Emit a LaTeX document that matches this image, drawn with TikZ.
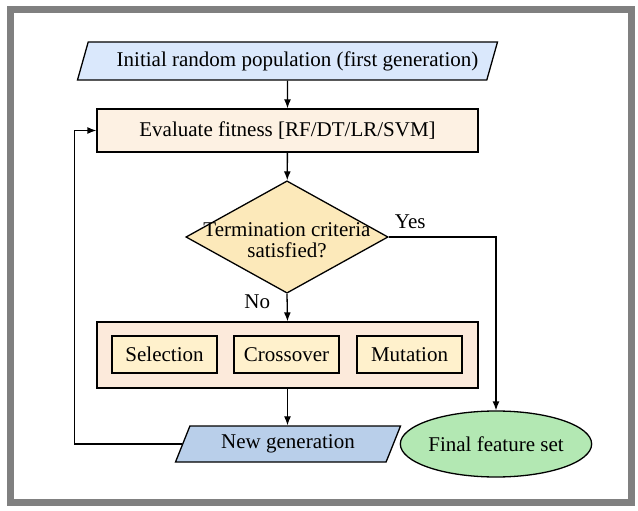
\documentclass[tikz,border=0pt]{standalone}
\usepackage{fontspec}
\setmainfont{Liberation Serif}
\usetikzlibrary{shapes.geometric,arrows.meta}

\definecolor{inputblue}{HTML}{DAE8FC}
\definecolor{evalfill}{HTML}{FDF1E3}
\definecolor{decfill}{HTML}{FCE9BA}
\definecolor{groupfill}{HTML}{FCEADB}
\definecolor{opfill}{HTML}{FFF1CC}
\definecolor{genblue}{HTML}{B9CFEA}
\definecolor{finalgreen}{HTML}{B3E8B3}
\definecolor{framegray}{HTML}{808080}

\begin{document}
\begin{tikzpicture}[x=1pt, y=-1pt, line width=1.3pt,
  >={Latex[length=9pt,width=7pt]}, font=\fontsize{21}{19}\selectfont]
  \tikzstyle{procbox}=[draw, rectangle, align=center, inner sep=0pt]
  \tikzstyle{iobox}=[draw, trapezium, trapezium stretches body, inner sep=0pt]
  \tikzstyle{opbox}=[procbox, fill=opfill, minimum width=105pt, minimum height=37pt]

  \useasboundingbox (0,0) rectangle (638,511);
  \draw[line width=7pt, framegray] (10.5,10) rectangle (631.5,502.5);

  \node[iobox, fill=inputblue, trapezium left angle=61, trapezium right angle=119,
    minimum width=420pt, minimum height=38pt] (Init) at (287.5,61)
    {\hspace*{20pt}Initial random population (first generation)};

  \node[procbox, fill=evalfill, minimum width=381pt, minimum height=43pt] (Eval) at (287.5,130.5)
    {Evaluate fitness [RF/DT/LR/SVM]};

  \node[draw, diamond, fill=decfill, shape aspect=1.8, inner sep=-6.6pt] (Check) at (287,237)
    {\raisebox{-6pt}[\height][\depth]{\begin{tabular}{@{}c@{}}Termination criteria\\satisfied?\end{tabular}}};

  \node[procbox, fill=groupfill, minimum width=381pt, minimum height=66pt] (Ops) at (287.5,355) {};

  \node[opbox] (Selection) at (164.5,354.5) {Selection};

  \node[opbox] (Crossover) at (286.5,354.5) {Crossover};

  \node[opbox] (Mutation) at (409.5,354.5) {Mutation};

  \node[iobox, fill=genblue, trapezium left angle=52, trapezium right angle=128,
    minimum width=225pt, minimum height=36pt] (NewGen) at (288,444) {New generation};

  \node[draw, ellipse, fill=finalgreen, inner sep=0pt, minimum width=158pt, minimum height=66pt]
    (Final) at (496,444) {Final feature set};

  \draw[->] (Init) -- (Eval);
  \draw[->] (Eval) -- (Check);

  \draw[->] (Check.east) -| node[above=4pt, pos=0.1] (YesLbl) {Yes} (Final.north);
  \draw[->] (Check.south) -- node[left, pos=0.27, xshift=-13pt] (NoLbl) {No} (Ops.north);

  \draw[->] (Ops.south) -- (NewGen.north -| Ops.south);
  \draw[->] (NewGen.west) -| ([xshift=-22pt]Eval.west) -- (Eval.west);

\end{tikzpicture}
\end{document}
